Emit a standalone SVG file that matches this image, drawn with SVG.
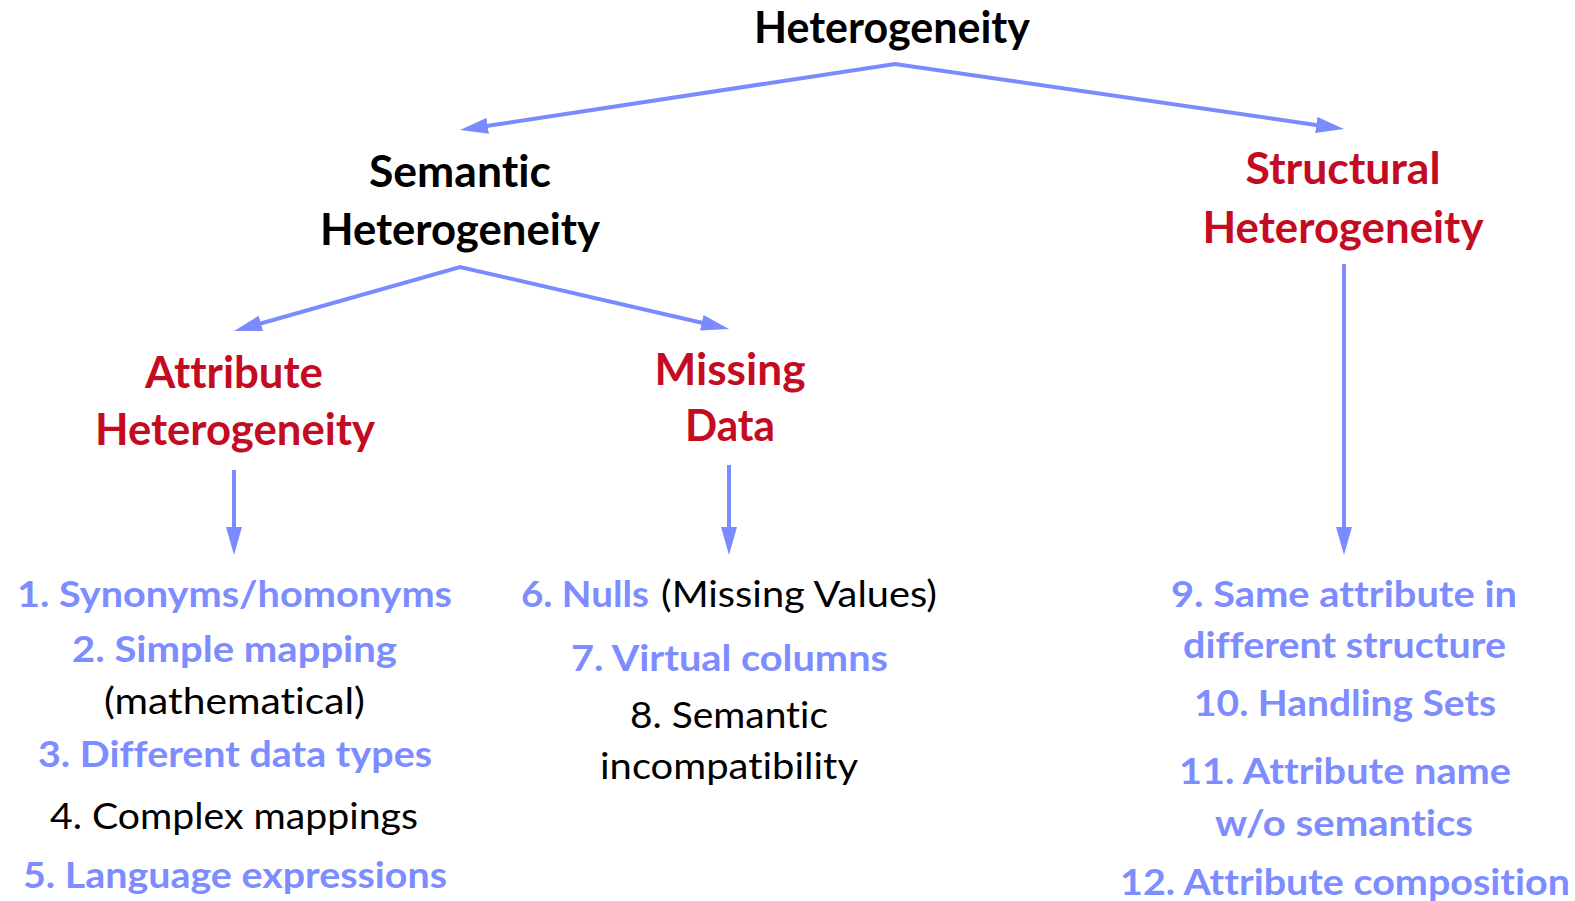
<svg xmlns="http://www.w3.org/2000/svg" width="1575" height="901" viewBox="0 0 1575 901">
  <style>
    text { font-family: Lato, "Noto Sans", "DejaVu Sans", sans-serif; font-variant-ligatures: none; font-feature-settings: "liga" 0, "dlig" 0; }
    .head { font-size: 43px; font-weight: 700; }
    .blk { fill: #000000; }
    .red { fill: #C30B22; }
    .item { font-size: 37px; }
    .b { font-weight: 700; fill: #7D8CFF; }
    .r { font-weight: 400; fill: #000000; }
    .conn { fill: none; stroke: #7A8BFF; stroke-width: 4; stroke-linejoin: miter; }
  </style>
  <defs>
    <marker id="ah" viewBox="0 0 28 16" refX="10" refY="8" markerWidth="28" markerHeight="16" markerUnits="userSpaceOnUse" orient="auto-start-reverse">
      <path d="M0,0 L28,8 L0,16 Z" fill="#7A8BFF"/>
    </marker>
  </defs>

  <!-- connectors -->
  <g id="connectors">
    <path class="conn" d="M477.8,127.3 L895,64 L1326.2,126.4" marker-start="url(#ah)" marker-end="url(#ah)"/>
    <path class="conn" d="M251.3,326.1 L460,267 L711.5,325" marker-start="url(#ah)" marker-end="url(#ah)"/>
    <path class="conn" d="M234,470 L234,537" marker-end="url(#ah)"/>
    <path class="conn" d="M729,465 L729,537" marker-end="url(#ah)"/>
    <path class="conn" d="M1344,264 L1344,537" marker-end="url(#ah)"/>
  </g>

  <!-- root -->
  <g id="heterogeneity">
    <text class="head blk" x="892" y="43" text-anchor="middle" textLength="276" lengthAdjust="spacingAndGlyphs">Heterogeneity</text>
  </g>

  <g id="semantic">
    <text class="head blk" x="460" y="187" text-anchor="middle" textLength="182" lengthAdjust="spacingAndGlyphs">Semantic</text>
    <text class="head blk" x="460" y="245" text-anchor="middle" textLength="280" lengthAdjust="spacingAndGlyphs">Heterogeneity</text>
  </g>

  <g id="structural">
    <text class="head red" x="1343" y="184" text-anchor="middle" textLength="195" lengthAdjust="spacingAndGlyphs">Structural</text>
    <text class="head red" x="1343" y="243" text-anchor="middle" textLength="281" lengthAdjust="spacingAndGlyphs">Heterogeneity</text>
  </g>

  <g id="attribute">
    <text class="head red" x="234" y="388" text-anchor="middle" textLength="178" lengthAdjust="spacingAndGlyphs">Attribute</text>
    <text class="head red" x="235" y="445" text-anchor="middle" textLength="280" lengthAdjust="spacingAndGlyphs">Heterogeneity</text>
  </g>

  <g id="missing">
    <text class="head red" x="730" y="385" text-anchor="middle" textLength="151" lengthAdjust="spacingAndGlyphs">Missing</text>
    <text class="head red" x="730" y="441" text-anchor="middle" textLength="90" lengthAdjust="spacingAndGlyphs">Data</text>
  </g>

  <!-- attribute heterogeneity cases -->
  <g id="attribute-cases" class="item">
    <text class="b" x="17" y="607" textLength="435" lengthAdjust="spacingAndGlyphs">1. Synonyms/homonyms</text>
    <text class="b" x="72" y="662" textLength="325" lengthAdjust="spacingAndGlyphs">2. Simple mapping</text>
    <text class="r" x="104" y="714" textLength="261" lengthAdjust="spacingAndGlyphs">(mathematical)</text>
    <text class="b" x="38" y="767" textLength="394" lengthAdjust="spacingAndGlyphs">3. Different data types</text>
    <text class="r" x="50" y="829" textLength="368" lengthAdjust="spacingAndGlyphs">4. Complex mappings</text>
    <text class="b" x="23" y="888" textLength="424" lengthAdjust="spacingAndGlyphs">5. Language expressions</text>
  </g>

  <!-- missing data cases -->
  <g id="missing-cases" class="item">
    <text class="b" x="521" y="607" textLength="128" lengthAdjust="spacingAndGlyphs">6. Nulls</text>
    <text class="r" x="661" y="607" textLength="276" lengthAdjust="spacingAndGlyphs">(Missing Values)</text>
    <text class="b" x="571" y="671" textLength="317" lengthAdjust="spacingAndGlyphs">7. Virtual columns</text>
    <text class="r" x="630" y="728" textLength="198" lengthAdjust="spacingAndGlyphs">8. Semantic</text>
    <text class="r" x="600" y="779" textLength="258" lengthAdjust="spacingAndGlyphs">incompatibility</text>
  </g>

  <!-- structural heterogeneity cases -->
  <g id="structural-cases" class="item">
    <text class="b" x="1171" y="607" textLength="346" lengthAdjust="spacingAndGlyphs">9. Same attribute in</text>
    <text class="b" x="1183" y="658" textLength="323" lengthAdjust="spacingAndGlyphs">different structure</text>
    <text class="b" x="1194" y="716" textLength="302" lengthAdjust="spacingAndGlyphs">10. Handling Sets</text>
    <text class="b" x="1179" y="784" textLength="332" lengthAdjust="spacingAndGlyphs">11. Attribute name</text>
    <text class="b" x="1215" y="836" textLength="258" lengthAdjust="spacingAndGlyphs">w/o semantics</text>
    <text class="b" x="1120" y="895" textLength="450" lengthAdjust="spacingAndGlyphs">12. Attribute composition</text>
  </g>
</svg>
